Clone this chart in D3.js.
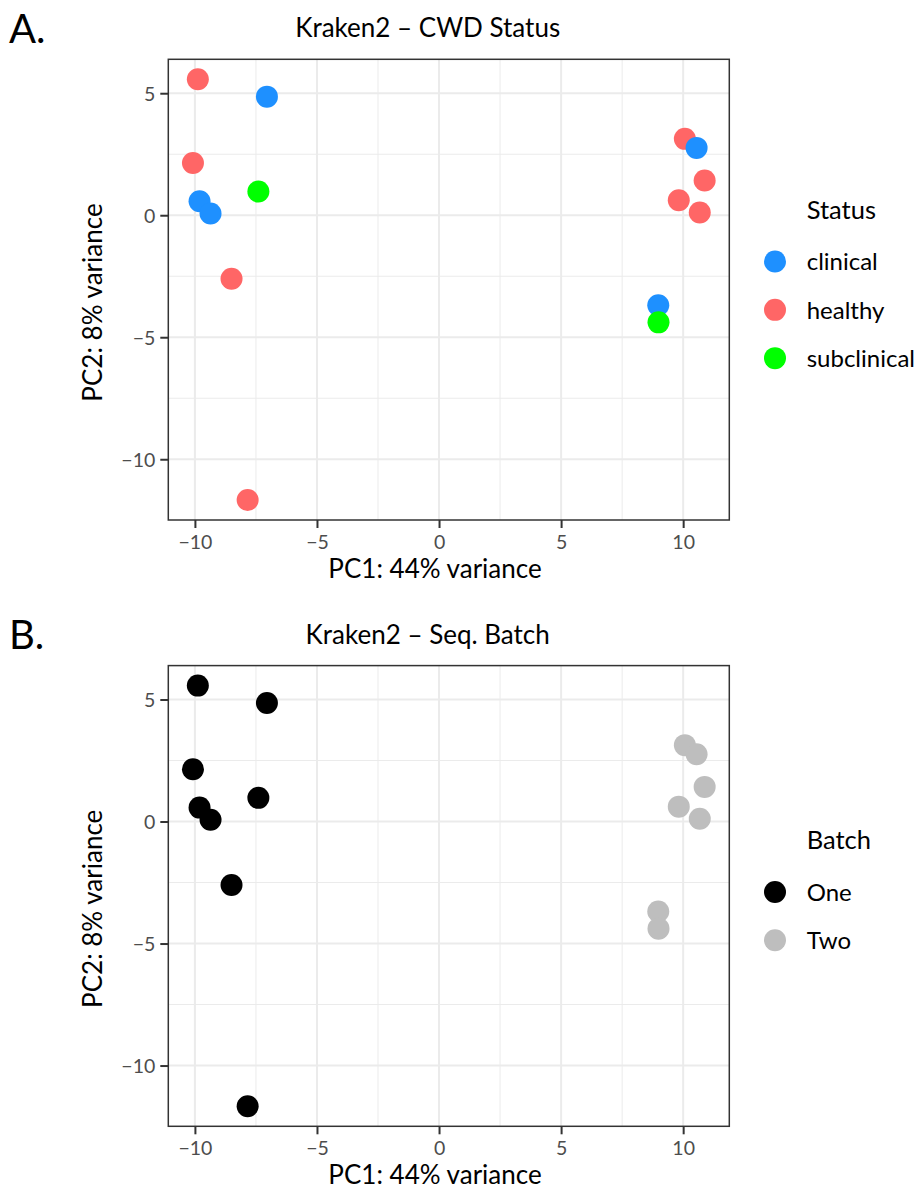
<!DOCTYPE html>
<html>
<head>
<meta charset="utf-8">
<script src="https://cdn.jsdelivr.net/npm/d3@7"></script>
<style>
body{margin:0;background:#fff}
text{font-family:Lato,sans-serif}
</style>
</head>
<body>
<svg id="c" width="919" height="1190"></svg>
<script>
// ---- data ----
const pc1 = [-9.88, -7.05, -10.08, -7.40, -9.81, -9.36, -8.50, -7.84, 10.07, 10.55, 10.88, 9.82, 10.68, 8.98, 8.99];
const pc2 = [5.57, 4.86, 2.14, 0.97, 0.57, 0.07, -2.60, -11.67, 3.13, 2.76, 1.42, 0.61, 0.11, -3.69, -4.39];
const status = ["healthy","clinical","healthy","subclinical","clinical","clinical","healthy","healthy",
                "healthy","clinical","healthy","healthy","healthy","clinical","subclinical"];
const batch = ["One","One","One","One","One","One","One","One","Two","Two","Two","Two","Two","Two","Two"];
const statusLevels = ["clinical","healthy","subclinical"];
const statusColors = ["#1E90FF","#FF6666","#00FF00"];
const batchLevels = ["One","Two"];
const batchColors = ["#000000","#BEBEBE"];
const xTicks = [-10,-5,0,5,10];
const yTicks = [5,0,-5,-10];
const xMinor = [-7.5,-2.5,2.5,7.5];
const yMinor = [2.5,-2.5,-7.5];
const panels = [
  {tag:"A.", title:"Kraken2 \u2013 CWD Status", legendTitle:"Status", groups:status, levels:statusLevels, colors:statusColors},
  {tag:"B.", title:"Kraken2 \u2013 Seq. Batch", legendTitle:"Batch", groups:batch, levels:batchLevels, colors:batchColors}
];
const xLabel = "PC1: 44% variance";
const yLabel = "PC2: 8% variance";

const points = pc1.map((x,i)=>({x, y:pc2[i], i}));
const svg = d3.select("#c");

const L = 168.3, R = 729.3, T = 59.3, B = 520;
const x = d3.scaleLinear().domain([-11.09, 11.89]).range([L, R]);

panels.forEach((p, k) => {
  const off = k * 606.3;
  const g = svg.append("g").attr("transform", `translate(0,${off})`);
  const y = d3.scaleLinear().domain([-12.49, 6.39]).range([B, T]);
  const color = d3.scaleOrdinal().domain(p.levels).range(p.colors);

  g.append("text").attr("x", 9).attr("y", 42.7).attr("font-size", 40).attr("fill", "#000").text(p.tag);
  g.append("text").attr("x", 427.7).attr("y", 37.3).attr("text-anchor", "middle")
    .attr("font-size", 26).attr("fill", "#000").text(p.title);

  g.append("rect").attr("x", L).attr("y", T).attr("width", R-L).attr("height", B-T).attr("fill", "#fff");
  const grid = g.append("g");
  grid.selectAll(".mx").data(xMinor).join("line")
    .attr("x1", d=>x(d)).attr("x2", d=>x(d)).attr("y1", T).attr("y2", B)
    .attr("stroke", "#EBEBEB").attr("stroke-width", 1);
  grid.selectAll(".my").data(yMinor).join("line")
    .attr("y1", d=>y(d)).attr("y2", d=>y(d)).attr("x1", L).attr("x2", R)
    .attr("stroke", "#EBEBEB").attr("stroke-width", 1);
  grid.selectAll(".Mx").data(xTicks).join("line")
    .attr("x1", d=>x(d)).attr("x2", d=>x(d)).attr("y1", T).attr("y2", B)
    .attr("stroke", "#EBEBEB").attr("stroke-width", 2);
  grid.selectAll(".My").data(yTicks).join("line")
    .attr("y1", d=>y(d)).attr("y2", d=>y(d)).attr("x1", L).attr("x2", R)
    .attr("stroke", "#EBEBEB").attr("stroke-width", 2);

  g.append("g").selectAll("circle").data(points).join("circle")
    .attr("cx", d=>x(d.x)).attr("cy", d=>y(d.y)).attr("r", 11)
    .attr("fill", d=>color(p.groups[d.i]));

  g.append("rect").attr("x", L).attr("y", T).attr("width", R-L).attr("height", B-T)
    .attr("fill", "none").attr("stroke", "#333333").attr("stroke-width", 1.5);

  const xa = g.append("g").attr("transform", `translate(0,${B})`)
    .call(d3.axisBottom(x).tickValues(xTicks).tickSize(8).tickPadding(4));
  const ya = g.append("g").attr("transform", `translate(${L},0)`)
    .call(d3.axisLeft(y).tickValues(yTicks).tickSize(8).tickPadding(5));
  [xa, ya].forEach(a => {
    a.select(".domain").remove();
    a.selectAll(".tick line").attr("stroke", "#333333").attr("stroke-width", 2);
    a.selectAll(".tick text").attr("fill", "#4D4D4D").attr("font-size", 19.5)
      .style("font-family", "Lato,sans-serif");
  });
  xa.selectAll(".tick text").attr("dy", null).attr("y", 28.5);
  ya.selectAll(".tick text").attr("dy", "0.36em");

  g.append("text").attr("x", 435).attr("y", 577.5).attr("text-anchor", "middle")
    .attr("font-size", 26).attr("fill", "#000").text(xLabel);
  g.append("text").attr("transform", `translate(101.7,302.5) rotate(-90)`).attr("text-anchor", "middle")
    .attr("font-size", 26).attr("fill", "#000").text(yLabel);

  // legend
  const mid = (T + B) / 2 + 20.2;
  const sp = 48.3;
  const first = mid - (p.levels.length - 1) * sp / 2;
  const lg = g.append("g");
  lg.append("text").attr("x", 806.7).attr("y", first - 43).attr("font-size", 25.5).attr("fill", "#000").text(p.legendTitle);
  p.levels.forEach((lv, j) => {
    lg.append("circle").attr("cx", 775).attr("cy", first + j*sp).attr("r", 11).attr("fill", color(lv));
    lg.append("text").attr("x", 806.7).attr("y", first + j*sp + 8.7).attr("font-size", 24).attr("fill", "#000").text(lv);
  });
});
</script>
</body>
</html>
